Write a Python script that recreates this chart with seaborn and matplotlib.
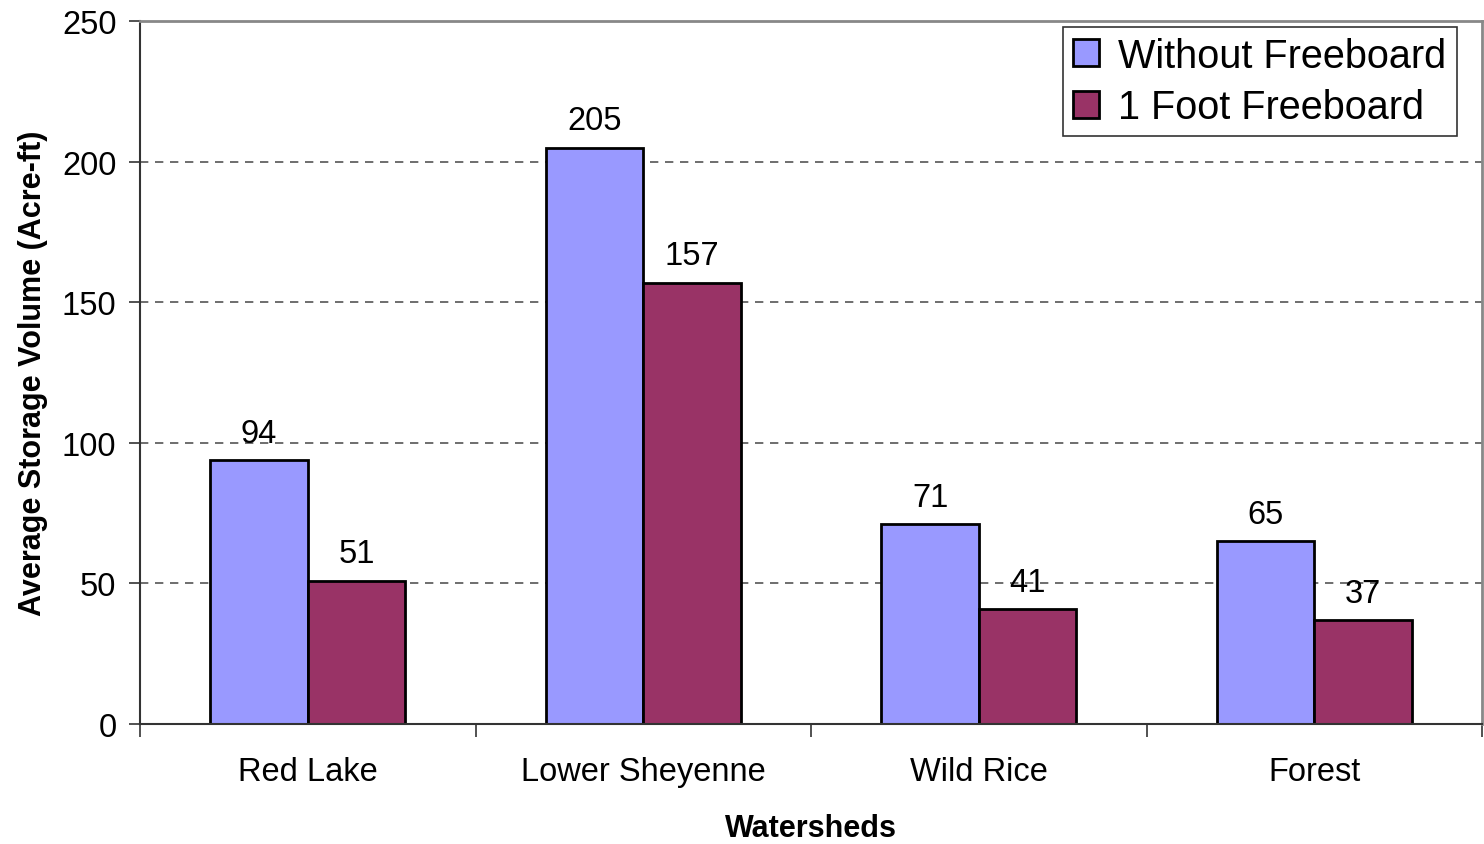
import pandas as pd
import matplotlib.pyplot as plt
import seaborn as sns

# ── DATA ──────────────────────────────────────────────────────────────
watersheds = ['Red Lake', 'Lower Sheyenne', 'Wild Rice', 'Forest']
without_freeboard = [94, 205, 71, 65]
one_foot_freeboard = [51, 157, 41, 37]
series_names = ['Without Freeboard', '1 Foot Freeboard']
y_ticks = [0, 50, 100, 150, 200, 250]

df = pd.DataFrame({
    'watershed': watersheds * 2,
    'volume': without_freeboard + one_foot_freeboard,
    'series': [series_names[0]] * 4 + [series_names[1]] * 4,
})

sns.set_style('white')
plt.rcParams['font.family'] = ['Liberation Sans', 'DejaVu Sans']
plt.rcParams['text.color'] = 'black'
plt.rcParams['axes.labelcolor'] = 'black'
plt.rcParams['xtick.color'] = 'black'
plt.rcParams['ytick.color'] = 'black'

fig = plt.figure(figsize=(14.84, 8.45), dpi=100)
ax = fig.add_axes([140 / 1484, 120 / 845, 1342 / 1484, 703 / 845])

sns.barplot(data=df, x='watershed', y='volume', hue='series',
            palette=['#9999FF', '#993366'], width=0.58,
            edgecolor='black', linewidth=2, saturation=1, ax=ax)

# value labels above every bar
for cont in ax.containers:
    ax.bar_label(cont, fmt='%d', padding=8, fontsize=23.5, color='black')

ax.set_ylim(0, 250)
ax.set_xlim(-0.5, 3.5)
ax.set_yticks(y_ticks)
ax.tick_params(axis='y', labelsize=23.5, length=8, width=1.2, color='#333333',
               labelcolor='black', direction='out', left=True, pad=9)

# category labels centred, tick marks between categories
ax.set_xticks(range(len(watersheds)))
ax.set_xticklabels(watersheds)
ax.set_xticks([-0.5, 0.5, 1.5, 2.5, 3.5], minor=True)
ax.tick_params(axis='x', which='major', length=0, labelsize=23.5, pad=23,
               labelcolor='black')
ax.tick_params(axis='x', which='minor', length=9, width=1.2, color='#333333',
               direction='out', bottom=True)

# dashed grid lines
for yv in y_ticks[1:-1]:
    ax.axhline(yv, color='#555555', linestyle=(0, (5, 4)), linewidth=1.2, zorder=0)

for side in ['top', 'right']:
    ax.spines[side].set_color('#888888')
    ax.spines[side].set_linewidth(2)
for side in ['left', 'bottom']:
    ax.spines[side].set_color('#333333')
    ax.spines[side].set_linewidth(1.5)

ax.set_xlabel('Watersheds', fontsize=22, fontweight='bold', labelpad=19)
ax.set_ylabel('Average Storage Volume (Acre-ft)', fontsize=22,
              fontweight='bold', labelpad=10)

leg = ax.legend(loc='upper right', bbox_to_anchor=(0.981, 0.992), fontsize=28.5,
                frameon=True, fancybox=False, shadow=False, handlelength=0.65,
                handleheight=0.65, handletextpad=0.5, borderpad=0.25,
                labelspacing=0.35, borderaxespad=0)
leg.get_frame().set_edgecolor('black')
leg.get_frame().set_linewidth(1.2)
for h in leg.legend_handles:
    h.set_edgecolor('black')
    h.set_linewidth(2)
leg.set_title(None)

plt.savefig('out.png', dpi=100)
